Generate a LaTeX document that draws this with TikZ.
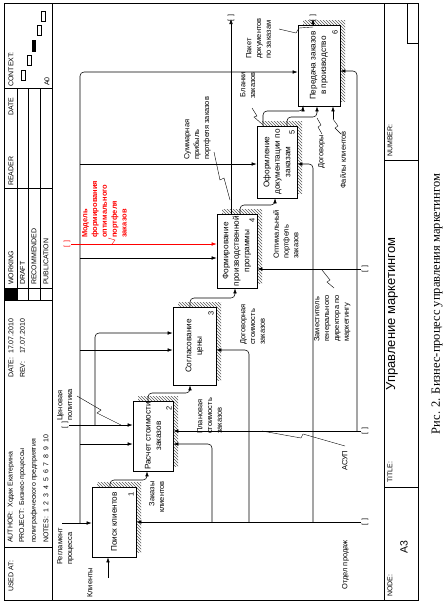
\documentclass[tikz,border=0pt]{standalone}
\usepackage{fontspec}
\setmainfont{Liberation Sans}
\newfontfamily\capfont{Liberation Serif}
\usetikzlibrary{arrows.meta,patterns,shadows,positioning,calc}
\definecolor{modelRed}{RGB}{255,0,0}
\definecolor{hatchGray}{RGB}{90,90,90}

\tikzset{
  idefbox/.style={draw,fill=white,line width=0.75pt,inner sep=0pt,
    general shadow={shadow xshift=5pt,shadow yshift=5pt,
      pattern=north west lines,pattern color=hatchGray}},
  boxtext/.style={rotate=90,align=center,inner sep=0pt,
    font=\fontsize{8.2}{10.5}\selectfont},
  boxnum/.style={rotate=90,inner sep=0pt,font=\fontsize{7.5}{8}\selectfont},
  arr/.style={-{Latex[length=5pt,width=3.6pt]},line width=0.55pt,rounded corners=4pt},
  lead/.style={line width=0.4pt},
  lbl/.style={rotate=90,anchor=north west,align=left,inner sep=0pt,
    font=\fontsize{7.5}{9.8}\selectfont},
  tunnel/.style={rotate=90,inner sep=0pt,font=\fontsize{7}{7}\selectfont},
  hdr/.style={rotate=90,anchor=west,inner sep=0pt,font=\fontsize{7}{8}\selectfont},
  frame/.style={line width=0.6pt}
}

\begin{document}
\begin{tikzpicture}[x=1pt,y=-1pt]
\useasboundingbox (0,0) rectangle (446,606);

% form frame
\draw[frame] (4,3) rectangle (418,600);
\draw[frame] (52,3) -- (52,600);
\draw[frame] (384,3) -- (384,600);
\foreach \yy in {88,188,288,300,547} \draw[frame] (4,\yy) -- (52,\yy);
\foreach \xx in {17,28,40} \draw[frame] (\xx,88) -- (\xx,300);
\fill (4,288) rectangle (17,300);
\draw[frame] (384,487) -- (418,487);
\draw[frame] (384,160) -- (418,160);
\draw[frame] (407,3) -- (407,43) -- (418,43);

% context
\foreach \xx/\yy in {23.5/75,29/60,39/30,43.5/16}
  \draw[line width=0.5pt] (\xx-1.8,\yy-5) rectangle (\xx+1.8,\yy+5);
\fill (32,40) rectangle (35.5,52);

% header
\node[hdr] (usedat) at (11,592) {USED AT:};
\node[hdr] (author) at (11,543) {AUTHOR:\ \ Ходак Екатерина};
\node[hdr] (project) at (22.5,543) {PROJECT:\ \ Бизнес-процессы};
\node[hdr] (project2) at (34,543) {полиграфического предприятия};
\node[hdr] (notes) at (46,543) {NOTES:\ \ 1\ \ 2\ \ 3\ \ 4\ \ 5\ \ 6\ \ 7\ \ 8\ \ 9\ \ 10};
\node[hdr] (date) at (11,378) {DATE:\ \ 17.07.2010};
\node[hdr] (rev) at (22.5,378) {REV:\ \ \ \ 17.07.2010};
\node[hdr] (working) at (11,285) {WORKING};
\node[hdr] (draft) at (22.5,285) {DRAFT};
\node[hdr] (recomm) at (34,285) {RECOMMENDED};
\node[hdr] (public) at (46,285) {PUBLICATION};
\node[hdr] (reader) at (11,186) {READER};
\node[hdr] (rdate) at (11,116) {DATE};
\node[hdr] (context) at (11,87) {CONTEXT:};
\node[hdr] (ctxnode) at (47,86) {A0};

% footer
\node[hdr] (nodelbl) at (390,597) {NODE:};
\node[rotate=90,font=\fontsize{10.5}{11}\selectfont] (nodeval) at (404,547) {A3};
\node[hdr] (titlelbl) at (390,483) {TITLE:};
\node[rotate=90,font=\fontsize{13}{14}\selectfont] (titleval) at (392,314) {Управление маркетингом};
\node[hdr] (numlbl) at (390,157) {NUMBER:};
\node[rotate=90,font=\capfont\fontsize{12.5}{14}\selectfont] (caption) at (437,304)
  {Рис. 2. Бизнес-процесс управления маркетингом};

% boxes
\node[idefbox,minimum width=44pt,minimum height=70pt] (b1) at (114,522) {};
\node[idefbox,minimum width=40pt,minimum height=70pt] (b2) at (153,436) {};
\node[idefbox,minimum width=43pt,minimum height=78pt] (b3) at (194.5,346) {};
\node[idefbox,minimum width=40pt,minimum height=74pt] (b4) at (237,251) {};
\node[idefbox,minimum width=40pt,minimum height=72pt] (b5) at (277,162) {};
\node[idefbox,minimum width=42pt,minimum height=81pt] (b6) at (319,65.5) {};
\node[boxtext] (t1) at (b1) {Поиск клиентов};
\node[boxtext] (t2) at (b2) {Расчет стоимости\\заказов};
\node[boxtext] (t3) at (b3) {Согласование\\цены};
\node[boxtext] (t4) at (b4) {Формирование\\производственной\\программы};
\node[boxtext] (t5) at (b5) {Оформление\\документации по\\заказам};
\node[boxtext] (t6) at (b6) {Передача заказов\\в производство};
\node[boxnum] (n1) at (131,494) {1};
\node[boxnum] (n2) at (169,408) {2};
\node[boxnum] (n3) at (211,313) {3};
\node[boxnum] (n4) at (252,220) {4};
\node[boxnum] (n5) at (292,132) {5};
\node[boxnum] (n6) at (335,32) {6};

% controls
\coordinate (reglIn) at (62,523);
\coordinate (reglJ) at (80,523);
\coordinate (regl6) at (80,72);
\coordinate (regl5) at (80,164);
\coordinate (regl4) at (80,258);
\coordinate (regl3) at (80,350);
\coordinate (regl2) at (80,444);
\draw[arr] (reglIn) -- (reglIn -| b1.west);
\draw[arr] (reglJ) -- (regl6) -- (regl6 -| b6.west);
\foreach \k in {2,...,5} \draw[arr] (regl\k) -- (regl\k -| b\k.west);

\coordinate (cenIn) at (69,425);
\coordinate (cenJ) at (95,425);
\coordinate (cen3) at (95,333);
\node[tunnel] (cenT) at (65,425) {[\,\,]};
\draw[arr] (cenIn) -- (cenIn -| b2.west);
\draw[arr] (cenJ) -- (cen3) -- (cen3 -| b3.west);

\coordinate (modIn) at (71,244);
\node[tunnel,text=modelRed] (modT) at (67,244) {[\,\,]};
\draw[arr,draw=modelRed] (modIn) -- (modIn -| b4.west);

% outputs and inputs
\coordinate (o1) at (110,480); \coordinate (i2) at (147,480);
\draw[arr] (o1 |- b1.north) -- (o1) -- (i2) -- (i2 |- b2.south);
\coordinate (o2) at (148,393); \coordinate (i3) at (190,393);
\draw[arr] (o2 |- b2.north) -- (o2) -- (i3) -- (i3 |- b3.south);
\coordinate (o3) at (190,298); \coordinate (i4) at (235,298);
\draw[arr] (o3 |- b3.north) -- (o3) -- (i4) -- (i4 |- b4.south);
\coordinate (o4) at (240,205); \coordinate (i5) at (275,205);
\draw[arr] (o4 |- b4.north) -- (o4) -- (i5) -- (i5 |- b5.south);
\coordinate (sumT) at (231,19);
\draw[arr] (sumT |- b4.north) -- (sumT);
\node[tunnel] (sumTun) at (231,18) {[\,\,]};
\coordinate (o5) at (263,111); \coordinate (i6) at (303,111);
\draw[arr] (o5 |- b5.north) -- (o5) -- (i6) -- (i6 |- b6.south);
\coordinate (o5b) at (287,117); \coordinate (i6b) at (317,117);
\draw[arr] (o5b |- b5.north) -- (o5b) -- (i6b) -- (i6b |- b6.south);
\coordinate (fil) at (333,119);
\draw[arr] (fil) -- (fil |- b6.south);
\coordinate (pakT) at (313,19);
\draw[arr] (pakT |- b6.north) -- (pakT);
\node[tunnel] (pakTun) at (313,18) {[\,\,]};
\coordinate (kliIn) at (108,578);
\draw[arr] (kliIn) -- (kliIn |- b1.south);

% mechanisms
\coordinate (otdIn) at (361,522);
\node[tunnel] (otdT) at (365,522) {[\,\,]};
\draw[arr] (otdIn) -- (otdIn -| b1.east);
\coordinate (otdJ2) at (212,522); \coordinate (otd2) at (212,444);
\draw[arr] (otdJ2) -- (otd2) -- (otd2 -| b2.east);
\coordinate (otdJ3) at (249,522); \coordinate (otd3) at (249,350);
\draw[arr] (otdJ3) -- (otd3) -- (otd3 -| b3.east);
\coordinate (otdJ5) at (313,522); \coordinate (otd5) at (313,164);
\draw[arr] (otdJ5) -- (otd5) -- (otd5 -| b5.east);
\coordinate (asuIn) at (361,431);
\node[tunnel] (asuT) at (365,431) {[\,\,]};
\draw[arr] (asuIn) -- (asuIn -| b2.east);
\coordinate (asuJ) at (357,431); \coordinate (asu6) at (357,71);
\draw[arr] (asuJ) -- (asu6) -- (asu6 -| b6.east);
\coordinate (zamIn) at (361,269);
\node[tunnel] (zamT) at (365,269) {[\,\,]};
\draw[arr] (zamIn) -- (zamIn -| b4.east);

% labels
\node[lbl] (lregl) at (57,565) {Регламент\\процесса};
\node[lbl] (lcen) at (57,421) {Ценовая\\политика};
\node[lbl,text=modelRed,font=\bfseries\fontsize{7.5}{9.8}\selectfont] (lmod) at (82,238)
  {Модель\\формирования\\оптимального\\портфеля\\заказов};
\node[lbl] (lkli) at (87,598) {Клиенты};
\node[lbl,anchor=north east,align=right] (lzak) at (149,481) {Заказы\\клиентов};
\node[lbl] (lplan) at (197,434) {Плановая\\стоимость\\заказов};
\node[lbl] (ldog) at (240,345) {Договорная\\стоимость\\заказов};
\node[lbl] (lopt) at (273,259) {Оптимальный\\портфель\\заказов};
\node[lbl] (lsum) at (184,160) {Суммарная\\прибыль\\портфеля заказов};
\node[lbl,anchor=north east,align=right] (lbla) at (240,72) {Бланки\\заказов};
\node[lbl] (lpak) at (246,59) {Пакет\\документов\\по заказам};
\node[lbl] (ldgv) at (318,169) {Договоры};
\node[lbl] (lfil) at (340,189) {Файлы клиентов};
\node[lbl] (lzam) at (314,342) {Заместитель\\генерального\\директора по\\маркетингу};
\node[lbl] (lasu) at (342,471) {АСУП};
\node[lbl] (lotd) at (342,590) {Отдел продаж};

% label leaders
\draw[lead] (77,396) -- (101,410) -- (97,413) -- (121,425);
\draw[lead,modelRed] (108,238) -- (115,240) -- (112,244);
\draw[lead] (214,152) -- (220,180) -- (224,178) -- (230,200);
\draw[lead] (252,108) -- (257,116) -- (254,117) -- (262,124);
\draw[lead] (279,29) -- (296,33) -- (299,28) -- (313,27);
\draw[lead] (317,118) -- (321,125) -- (318,127) -- (322,134);
\draw[lead] (333,119) -- (338,126) -- (335,128) -- (341,134);
\draw[lead] (322,270) -- (330,280) -- (327,282) -- (334,288);
\draw[lead] (262,431) -- (301,438) -- (303,434) -- (345,446);
\end{tikzpicture}
\end{document}
